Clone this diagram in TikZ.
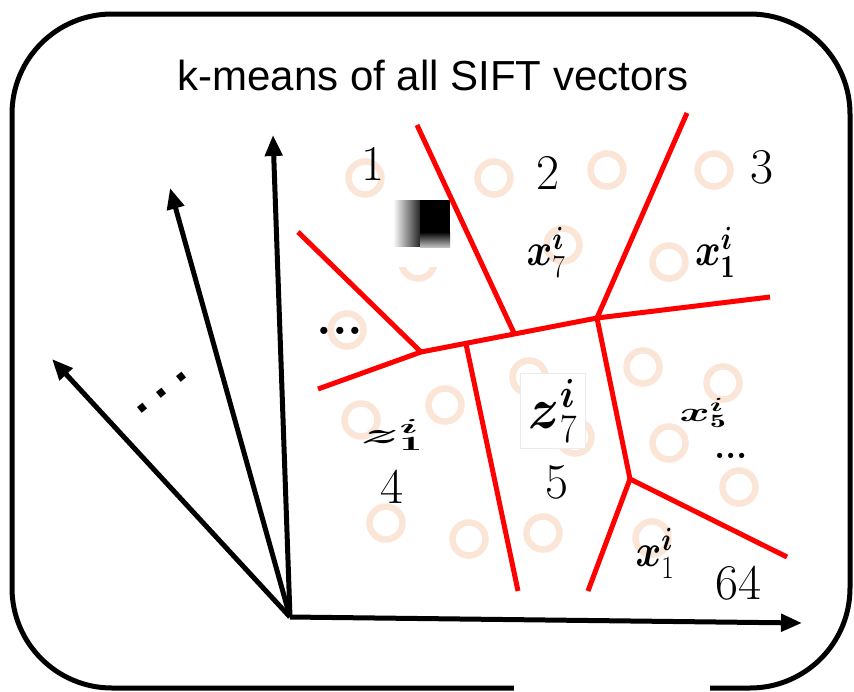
\RequirePackage{fix-cm}
\documentclass[tikz,border=0pt]{standalone}
\usepackage{amsmath}
\usepackage{fontspec}
\usetikzlibrary{arrows.meta}
\newfontfamily\sansf{Liberation Sans}
\definecolor{peach}{HTML}{FBE5D6}
\begin{document}
\begin{tikzpicture}[x=1pt,y=-1pt,
  frame/.style={line width=5pt},
  axis/.style={line width=5pt,-{Triangle[length=21pt,width=17pt]}},
  part/.style={draw=red,line width=5pt},
  ring/.style={draw=peach,line width=6.5pt},
  digit/.style={font=\fontsize{50}{54}\selectfont,inner sep=0pt},
  lab/.style={font=\fontsize{46}{50}\selectfont,inner sep=0pt,xscale=0.85},
  squat/.style={font=\fontsize{34}{38}\selectfont,inner sep=0pt}]
\useasboundingbox (0,0) rectangle (854,691);
% frame
\draw[frame,rounded corners=100pt] (12,14) rectangle (850,688);
\fill[white] (514,680) rectangle (710,694);
% title
\node[font=\sansf\fontsize{42}{46}\selectfont,inner sep=0pt] (title) at (433,75) {k-means of all SIFT vectors};
% rings
\foreach \p in {(365,178),(494,178),(607,170),(714,170),(563,245),(669,262),(347,330),(361,420),(445,405),(386,523),(469,539),(529,377),(543,533),(575,437),(643,367),(723,383),(669,443),(739,487),(652,538),(418,262)}
  \draw[ring] \p circle (16.5pt);
% white patch and blurred square
\fill[white] (393,199) rectangle (451,267);
\shade[left color=white,right color=black!85] (393,200) rectangle (420,246);
\fill[black] (420,200) rectangle (450,232);
\shade[top color=black,bottom color=black!25] (420,232) rectangle (450,247);
% partition lines
\coordinate (j1) at (421,352);
\coordinate (j2) at (466,344);
\coordinate (j3) at (597,318);
\coordinate (j4) at (630,479);
\coordinate (j5) at (514,333);
\draw[part] (318,389) -- (j1) -- (j3) -- (770,297);
\draw[part] (298,232) -- (j1);
\draw[part] (417,125) -- (j5);
\draw[part] (687,113) -- (j3) -- (j4) -- (787,557);
\draw[part] (j4) -- (588,591);
\draw[part] (j2) -- (518,591);
% axes
\coordinate (o) at (290,617);
\coordinate (ay) at (273,135);
\coordinate (a2) at (170,188);
\coordinate (a3) at (52,359);
\coordinate (ax) at (802,623);
\draw[axis] (o) -- (ay);
\draw[axis] (o) -- (a2);
\draw[axis] (o) -- (a3);
\draw[axis] (o) -- (ax);
\node[font=\sansf\bfseries\fontsize{50}{54}\selectfont,inner sep=0pt,rotate=39] (ddots) at (162,393) {.\hspace{11pt}.\hspace{11pt}.};
% digits
\node[digit] (d1) at (373,164) {1};
\node[digit] (d2) at (548,173) {2};
\node[digit] (d3) at (762,167) {3};
\node[digit] (d4) at (392,487) {4};
\node[digit] (d5) at (557,482) {5};
\node[digit] (d64) at (738,583) {64};
% math labels
\node[lab] (x7) at (546,252) {$\boldsymbol{x}_7^{\boldsymbol{i}}$};
\node[lab] (x1a) at (715,252) {$\boldsymbol{x}_{\mathbf{1}}^{\boldsymbol{i}}$};
\node[squat,xscale=1.9,yscale=0.85] (z1) at (392,435) {$\boldsymbol{z}_{\mathbf{1}}^{\boldsymbol{i}}$};
\node[draw=black!8,fill=white,inner sep=0pt,minimum width=65pt,minimum height=75pt] (z7box) at (553,411) {};
\node[font=\fontsize{58}{62}\selectfont,inner sep=0pt,xscale=0.9] (z7) at (553,411) {$\boldsymbol{z}_7^{\boldsymbol{i}}$};
\node[squat,xscale=1.35,yscale=0.8] (x5) at (703,413) {$\boldsymbol{x}_{\mathbf{5}}^{\boldsymbol{i}}$};
\node[lab] (x1b) at (655,553) {$\boldsymbol{x}_1^{\boldsymbol{i}}$};
\node[font=\bfseries\fontsize{36}{40}\selectfont,inner sep=0pt] (dr) at (731,456) {...};
\node[font=\bfseries\fontsize{50}{54}\selectfont,inner sep=0pt] (dl) at (340,331) {...};
\end{tikzpicture}
\end{document}
